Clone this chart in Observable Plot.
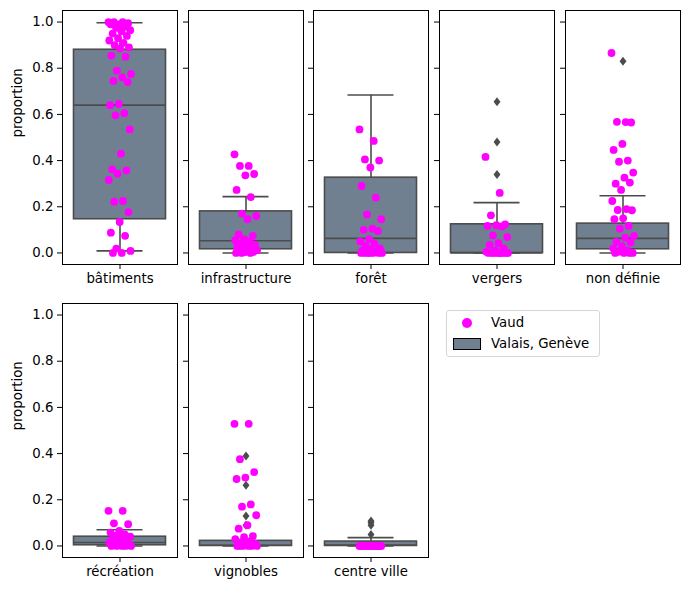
<!DOCTYPE html>
<html><head><meta charset="utf-8">
<script src="https://cdn.jsdelivr.net/npm/d3@7"></script>
<script src="https://cdn.jsdelivr.net/npm/@observablehq/plot@0.6"></script>
<style>
body{margin:0;background:#fff;font-family:"DejaVu Sans",sans-serif;}
#chart{position:relative;width:690px;height:590px;overflow:hidden;}
#chart svg{position:absolute;overflow:visible;}
.legend{position:absolute;left:446px;top:310px;width:152px;height:45px;border:1px solid #d6d6d6;border-radius:3px;background:#fff;font-size:13.3px;color:#000;}
.legend .dot{position:absolute;left:15px;top:7px;width:10px;height:10px;border-radius:50%;background:#ff00ff;}
.legend .sw{position:absolute;left:6px;top:27px;width:26px;height:10px;background:#708090;border:1px solid #000;}
.legend .t{position:absolute;left:44px;line-height:16px;}
</style></head>
<body>
<div id="chart">
  <div class="legend"><div class="dot"></div><div class="t" style="top:4px">Vaud</div><div class="sw"></div><div class="t" style="top:25px">Valais, Genève</div></div>
</div>
<script>
const categories = ["bâtiments","infrastructure","forêt","vergers","non définie","récréation","vignobles","centre ville"];
const yTicks = [0, 0.2, 0.4, 0.6, 0.8, 1.0];

// Box statistics (Valais, Genève)
const boxQ1      = [0.146, 0.016, 0.0,   0.0,   0.016, 0.003, 0.0,   0.0];
const boxMedian  = [0.64,  0.053, 0.063, 0.0,   0.063, 0.015, 0.003, 0.004];
const boxQ3      = [0.88,  0.18,  0.326, 0.124, 0.127, 0.04,  0.022, 0.019];
const whiskerLow = [0.009, 0.0,   0.0,   0.0,   0.0,   0.0,   0.0,   0.0];
const whiskerHigh= [0.997, 0.244, 0.684, 0.218, 0.248, 0.07,  0.022, 0.036];
const outliers = [[], [], [], [0.655, 0.48, 0.34], [0.83], [], [0.39, 0.263, 0.13, 0.09], [0.108, 0.10, 0.09, 0.05]];

// Vaud points
const vaudBatiments = [1.0,1.0,1.0,0.995,0.99,0.99,0.98,0.975,0.965,0.96,0.95,0.94,0.93,0.92,0.91,0.90,0.89,0.885,0.855,0.85,0.79,0.775,0.76,0.745,0.74,0.645,0.64,0.605,0.596,0.535,0.43,0.362,0.358,0.343,0.316,0.225,0.222,0.177,0.134,0.088,0.074,0.019,0.009,0.0,0.0];
const vaudInfrastructure = [0.427,0.377,0.377,0.342,0.336,0.273,0.242,0.17,0.16,0.146,0.08,0.074,0.06,0.055,0.05,0.04,0.035,0.03,0.025,0.02,0.015,0.012,0.01,0.008,0.005,0.003,0.0,0.0,0.0];
const vaudForet = [0.535,0.485,0.405,0.40,0.37,0.29,0.24,0.167,0.146,0.105,0.1,0.095,0.06,0.05,0.04,0.03,0.02,0.015,0.01,0.005,0,0,0,0,0,0,0];
const vaudVergers = [0.416,0.26,0.163,0.124,0.12,0.117,0.115,0.076,0.069,0.042,0.035,0.02,0.01,0.005,0,0,0,0,0,0,0,0,0];
const vaudNonDefinie = [0.866,0.567,0.568,0.565,0.472,0.446,0.40,0.395,0.348,0.326,0.30,0.305,0.273,0.225,0.19,0.186,0.185,0.15,0.146,0.117,0.105,0.074,0.066,0.048,0.045,0.03,0.02,0.01,0.005,0,0,0,0];
const vaudRecreation = [0.152,0.152,0.098,0.094,0.065,0.058,0.05,0.045,0.04,0.035,0.03,0.025,0.02,0.015,0.01,0.008,0.005,0.003,0,0,0,0,0];
const vaudVignobles = [0.529,0.529,0.376,0.32,0.296,0.29,0.18,0.17,0.133,0.09,0.075,0.043,0.038,0.03,0.02,0.015,0.01,0.005,0,0,0,0,0,0];
const vaudCentreVille = [0,0,0,0,0,0,0,0,0,0,0,0,0,0,0,0,0,0,0,0];
const vaud = [vaudBatiments, vaudInfrastructure, vaudForet, vaudVergers, vaudNonDefinie, vaudRecreation, vaudVignobles, vaudCentreVille];

const gray = "#4c4c4c";
const thinDiamond = {
  draw(ctx, size) {
    const s = Math.sqrt(size / Math.PI);
    ctx.moveTo(0, -1.5 * s); ctx.lineTo(1.15 * s, 0); ctx.lineTo(0, 1.5 * s); ctx.lineTo(-1.15 * s, 0); ctx.closePath();
  }
};

const layout = [
  {left: 62, top: 10}, {left: 188, top: 10}, {left: 313, top: 10}, {left: 439, top: 10}, {left: 565, top: 10},
  {left: 62, top: 303}, {left: 188, top: 303}, {left: 313, top: 303}
];

const chart = document.getElementById("chart");
categories.forEach((cat, i) => {
  const firstCol = layout[i].left === 62;
  const mL = firstCol ? 62 : 8, mT = 2, mR = 2, mB = 28, W = 115, H = 254;
  const pts = vaud[i].map((v, k) => ({v, j: (((k * 0.618034) % 1) - 0.5) * 0.2}));
  const box = [{q1: boxQ1[i], med: boxMedian[i], q3: boxQ3[i], lo: whiskerLow[i], hi: whiskerHigh[i]}];
  const svg = Plot.plot({
    width: mL + W + mR, height: mT + H + mB,
    marginLeft: mL, marginTop: mT, marginRight: mR, marginBottom: mB,
    x: {domain: [-0.5, 0.5]},
    y: {domain: [-0.05, 1.05]},
    style: {fontFamily: "DejaVu Sans", fontSize: "13.3px", color: "#000", background: "transparent"},
    marks: [
      Plot.ruleX(box, {x: 0, y1: "q3", y2: "hi", stroke: gray, strokeWidth: 1.6}),
      Plot.ruleX(box, {x: 0, y1: "lo", y2: "q1", stroke: gray, strokeWidth: 1.6}),
      Plot.ruleY(box, {y: "hi", x1: -0.2, x2: 0.2, stroke: gray, strokeWidth: 1.6}),
      Plot.ruleY(box, {y: "lo", x1: -0.2, x2: 0.2, stroke: gray, strokeWidth: 1.6}),
      Plot.rect(box, {x1: -0.4, x2: 0.4, y1: "q1", y2: "q3", fill: "#708090", stroke: gray, strokeWidth: 1.6}),
      Plot.ruleY(box, {y: "med", x1: -0.4, x2: 0.4, stroke: gray, strokeWidth: 1.6}),
      Plot.dot(outliers[i], {x: 0, y: d => d, symbol: thinDiamond, r: 3, fill: gray, stroke: null}),
      Plot.dot(pts, {x: "j", y: "v", r: 3.9, fill: "#ff00ff", stroke: null}),
      Plot.frame({stroke: "#000", strokeWidth: 1}),
      Plot.axisY(yTicks, {tickSize: 5, tickPadding: 4, fontSize: 13.3, tickFormat: firstCol ? d3.format(".1f") : () => "", label: null}),
      Plot.axisX([0], {tickSize: 5, tickPadding: 4, fontSize: 13.3, tickFormat: () => cat, label: null}),
      firstCol ? Plot.text(["proportion"], {frameAnchor: "left", dx: -45, rotate: -90, fontSize: 13.3}) : null
    ]
  });
  svg.style.left = (layout[i].left - mL) + "px";
  svg.style.top = (layout[i].top - mT) + "px";
  chart.appendChild(svg);
});
</script>
</body></html>
